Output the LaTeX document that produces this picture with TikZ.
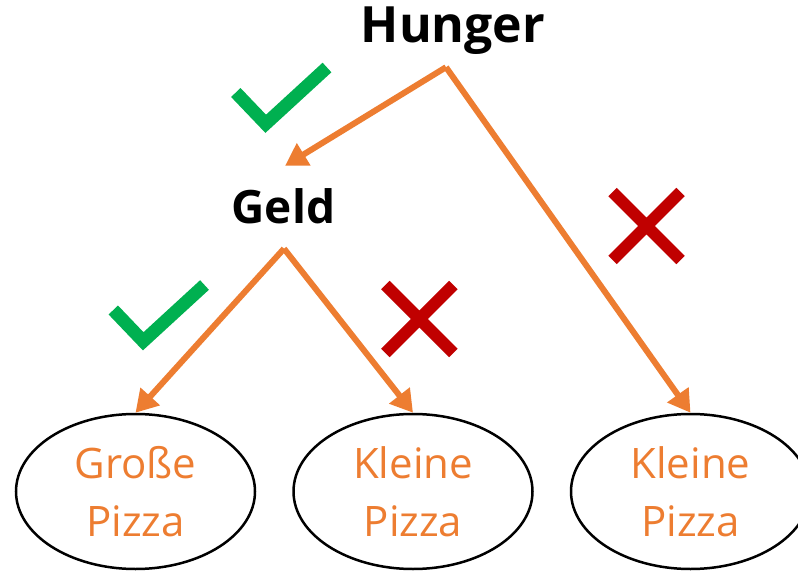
\documentclass[tikz,border=0pt]{standalone}
\usepackage{fontspec}
\setmainfont{Open Sans}
\usepackage{xcolor}
\usetikzlibrary{arrows.meta, calc, shapes.geometric}

\definecolor{pfeilorange}{HTML}{ED7D31}
\definecolor{jagruen}{HTML}{00B050}
\definecolor{neinrot}{HTML}{C00000}

\begin{document}
\begin{tikzpicture}[x=1pt, y=-1pt,
    frage/.style={font=\fontsize{46}{54}\selectfont\bfseries, anchor=base, inner sep=0pt},
    pizza/.style={ellipse, draw=black, line width=2.5pt, minimum width=239pt,
      minimum height=155pt, inner sep=0pt, align=center, text=pfeilorange,
      font=\fontsize{42}{58}\selectfont},
    pfeil/.style={draw=pfeilorange, line width=6pt, -{Triangle[length=22pt, width=25pt]}},
    haken/.style={jagruen, line width=13pt},
    kreuz/.style={neinrot, line width=12pt}]
      \useasboundingbox (0,0) rectangle (798,577);

      \node[frage, font=\fontsize{50}{60}\selectfont\bfseries] (hunger) at (453,43) {Hunger};
      \node[frage] (geld) at (283.5,224) {Geld};

      \node[pizza] (gross) at (135.5,491.5) {Große\\Pizza};
      \node[pizza] (klein1) at (413,491.5) {Kleine\\Pizza};
      \node[pizza] (klein2) at (690.5,491.5) {Kleine\\Pizza};

      \coordinate (H0) at ($ (hunger.south)+(-7,12) $);
      \coordinate (G0) at ($ (geld.south)+(0.5,24) $);
      \coordinate (G1) at ($ (geld.north)+(1.5,-23) $);

      \draw[pfeil] (H0) -- (G1);
      \draw[pfeil] (H0) -- (klein2.north);
      \draw[pfeil] (G0) -- (gross.north);
      \draw[pfeil] (G0) -- (klein1.north);

      \foreach \dx/\dy in {0/0, -122.5/217.5} {
          \draw[haken] (235.8+\dx,92.5+\dy) -- (265.7+\dx,123.8+\dy) -- (327+\dx,67.5+\dy);
      }

      \foreach \x/\y in {419.3/319, 646.5/226} {
          \draw[kreuz] (\x-34,\y-34) -- (\x+34,\y+34) (\x+34,\y-34) -- (\x-34,\y+34);
      }
    \end{tikzpicture}
\end{document}
